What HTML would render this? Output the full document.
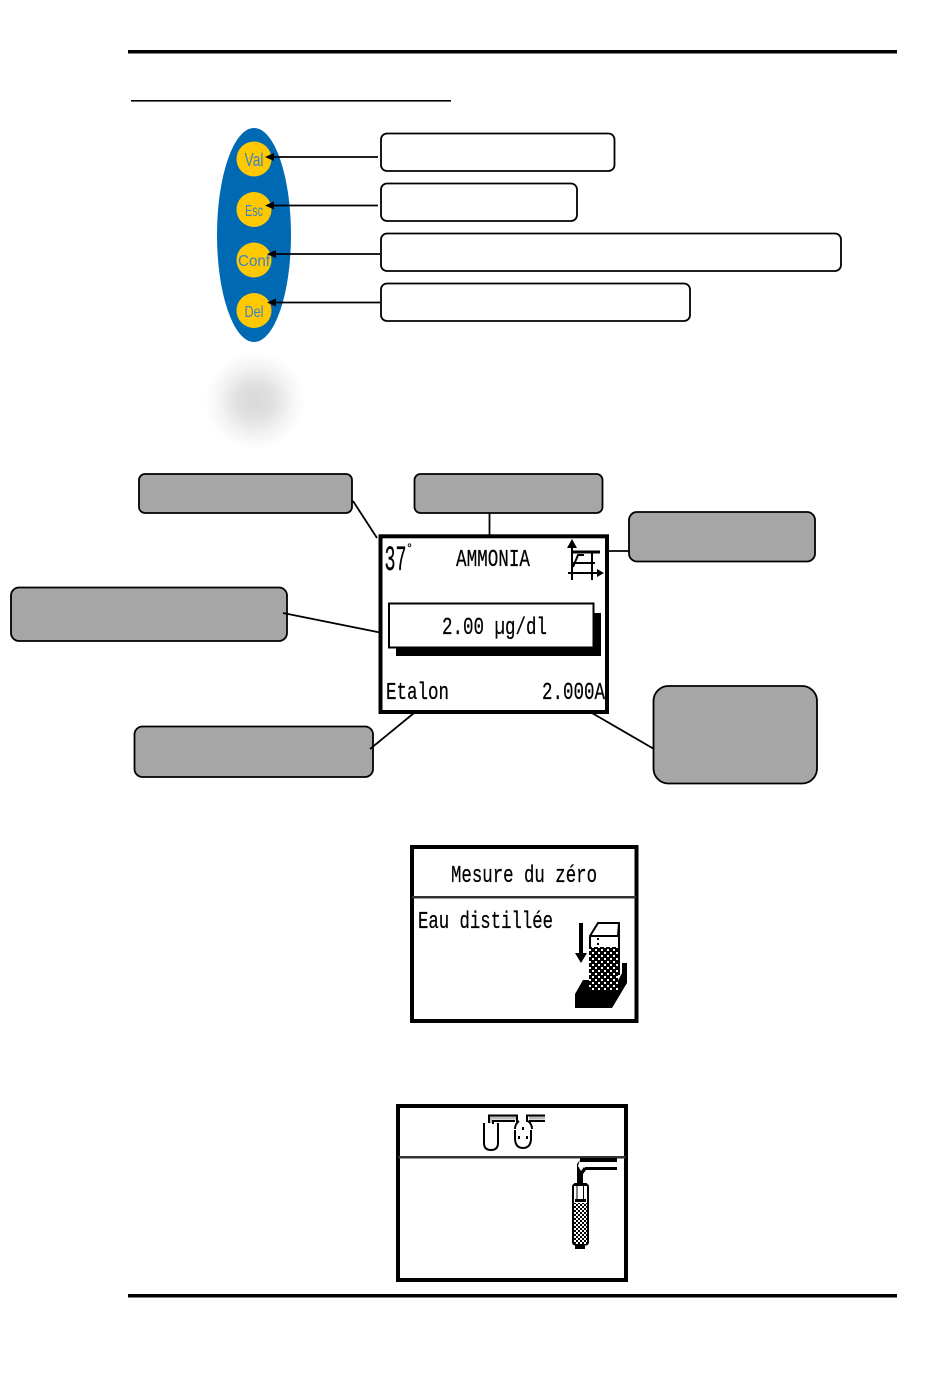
<!DOCTYPE html>
<html><head><meta charset="utf-8"><style>
html,body{margin:0;padding:0;background:#fff}
svg{display:block}
.l{font-family:"Liberation Mono",monospace;fill:#000;stroke:#000;stroke-width:.25}
</style></head><body>
<svg width="950" height="1379" viewBox="0 0 950 1379" xmlns="http://www.w3.org/2000/svg">
<defs>
<radialGradient id="g"><stop offset="0" stop-color="#d9d9d9"/><stop offset=".35" stop-color="#e0e0e0"/><stop offset=".7" stop-color="#f3f3f3"/><stop offset="1" stop-color="#fff"/></radialGradient>
<pattern id="ch" width="4" height="4" patternUnits="userSpaceOnUse"><rect width="4" height="4" fill="#fff"/><rect width="2" height="2" fill="#000"/><rect x="2" y="2" width="2" height="2" fill="#000"/></pattern>
<pattern id="gr" width="6" height="6" patternUnits="userSpaceOnUse"><rect width="6" height="6" fill="#000"/><rect x="1" y="1" width="2" height="2" fill="#fff"/><rect x="4" y="4" width="2" height="2" fill="#fff"/></pattern>
</defs>
<rect x="128" y="50" width="769" height="3.500"/>
<rect x="131" y="100" width="320" height="1.600"/>
<rect x="128" y="1294" width="769" height="3.500"/>

<ellipse cx="254" cy="235" rx="37" ry="107" fill="#0069b4"/>
<g fill="#ffc800"><circle cx="254" cy="159" r="17.500"/><circle cx="254" cy="209.500" r="17.500"/><circle cx="254" cy="260" r="17.500"/><circle cx="254" cy="310.500" r="17.500"/></g>
<g font-family="Liberation Sans,sans-serif" fill="#3a84c2" text-anchor="middle">
<text x="254" y="166" font-size="18" textLength="19" lengthAdjust="spacingAndGlyphs">Val</text>
<text x="254" y="216" font-size="16" textLength="18" lengthAdjust="spacingAndGlyphs">Esc</text>
<text x="254" y="266" font-size="16" textLength="32" lengthAdjust="spacingAndGlyphs">Conf</text>
<text x="254" y="317" font-size="16" textLength="19" lengthAdjust="spacingAndGlyphs">Del</text>
</g>
<g stroke="#000" stroke-width="1.800" fill="#fff">
<rect x="381" y="133.500" width="233.500" height="37.500" rx="6"/>
<rect x="381" y="183.500" width="196" height="37.500" rx="6"/>
<rect x="381" y="233.500" width="460" height="37.500" rx="6"/>
<rect x="381" y="283.500" width="309" height="37.500" rx="6"/>
</g>
<g stroke="#000" stroke-width="1.700">
<line x1="270" y1="157" x2="378" y2="157"/><line x1="270" y1="205.500" x2="378" y2="205.500"/><line x1="272" y1="254" x2="380" y2="254"/><line x1="272" y1="302.500" x2="380" y2="302.500"/>
</g>
<polygon points="265,157 274,153 274,161"/><polygon points="265,205.500 274,201.500 274,209.500"/><polygon points="267,254 276,250 276,258"/><polygon points="267,302.500 276,298.500 276,306.500"/>

<ellipse cx="255" cy="401" rx="50" ry="49" fill="url(#g)"/>

<g stroke="#000" stroke-width="1.800" fill="#a6a6a6">
<rect x="139" y="474" width="213" height="39" rx="6"/>
<rect x="414.500" y="474" width="188" height="39" rx="6"/>
<rect x="629" y="512" width="186" height="49.500" rx="8"/>
<rect x="11" y="587.500" width="276" height="53.500" rx="8"/>
<rect x="134.500" y="726.500" width="238.500" height="50.500" rx="8"/>
<rect x="653.500" y="686" width="163.500" height="97.500" rx="15"/>
</g>
<g stroke="#000" stroke-width="1.800" fill="none">
<line x1="353" y1="501" x2="377" y2="538"/>
<line x1="489.500" y1="513" x2="489.500" y2="536"/>
<line x1="608" y1="551" x2="629" y2="551"/>
<line x1="283" y1="613" x2="380" y2="632.500"/>
<line x1="370" y1="749" x2="414" y2="713"/>
<line x1="592" y1="713" x2="654" y2="749"/>
</g>

<!-- screen 1 -->
<rect x="380.500" y="536.300" width="226.500" height="175.700" fill="#fff" stroke="#000" stroke-width="4"/>
<rect x="396" y="613" width="205" height="43"/>
<rect x="389" y="603.500" width="204.500" height="44" fill="#fff" stroke="#000" stroke-width="2"/>
<text class="l" font-size="35" x="384.500" y="570" textLength="22" lengthAdjust="spacingAndGlyphs">37</text>
<text class="l" font-size="13" x="406" y="552" textLength="7" lengthAdjust="spacingAndGlyphs">°</text>
<text class="l" font-size="24" x="456" y="566" textLength="74" lengthAdjust="spacingAndGlyphs">AMMONIA</text>
<text class="l" font-size="24" x="442" y="634" textLength="105" lengthAdjust="spacingAndGlyphs">2.00 µg/dl</text>
<text class="l" font-size="24" x="386" y="699" textLength="63" lengthAdjust="spacingAndGlyphs">Etalon</text>
<text class="l" font-size="24" x="542" y="699" textLength="63" lengthAdjust="spacingAndGlyphs">2.000A</text>
<g stroke="#000" fill="none" stroke-width="2">
<line x1="572" y1="542" x2="572" y2="580"/><line x1="568" y1="573" x2="602" y2="573"/>
<line x1="572" y1="552" x2="600" y2="552" stroke-width="3"/><line x1="572" y1="563" x2="595" y2="563"/>
<line x1="592" y1="552" x2="592" y2="580"/><polyline points="573,567 578,555 584,555"/>
</g>
<polygon points="572,539 567,548 577,548"/><polygon points="604,573 597,569 597,577"/>

<!-- screen 2 -->
<rect x="412" y="847" width="224.500" height="174" fill="#fff" stroke="#000" stroke-width="4"/>
<rect x="412" y="896" width="224" height="2.500" fill="#333"/>
<text class="l" font-size="24" x="451" y="882" textLength="146" lengthAdjust="spacingAndGlyphs">Mesure du zéro</text>
<text class="l" font-size="24" x="418" y="928" textLength="135" lengthAdjust="spacingAndGlyphs">Eau distillée</text>
<rect x="579" y="923" width="4" height="30"/><polygon points="575,953 587,953 581,963"/>
<polygon points="575,994 583,980 589,980 589,990 613,990 622,973 622,963 627,963 627,983 612,1008 575,1008"/>
<rect x="589" y="947" width="29" height="43" fill="url(#gr)"/>
<g fill="none" stroke="#000" stroke-width="2"><path d="M590 948 V936 L598 923 H619 V975 M590 936 H618 M618 936 L619 923"/></g>
<rect x="597" y="938" width="2" height="2"/><rect x="597" y="943" width="2" height="2"/>

<!-- screen 3 -->
<rect x="398" y="1106" width="228" height="174" fill="#fff" stroke="#000" stroke-width="4"/>
<rect x="398" y="1156" width="228" height="2.500" fill="#333"/>
<path d="M490.500 1123 V1118 H516 M529 1118 H545" fill="none" stroke="#bbb" stroke-width="3"/>
<g fill="none" stroke="#000" stroke-width="2">
<path d="M484 1123 V1143 Q484 1150 491 1150 Q498 1150 498 1143 V1123"/>
<path d="M489 1123 V1115.500 H517 V1122 M493 1124 V1121 H515 M527 1122 V1115.500 H545 M530 1123 V1121 H545"/>
<path d="M515 1129 Q515 1124 519 1121 M528 1121 Q532 1124 532 1129 M531 1130 V1140 M515 1130 V1140 M515 1140 Q516 1148 523 1148 Q530 1148 531 1140"/>
</g>
<rect x="522" y="1127" width="2" height="3"/><rect x="518" y="1136" width="2" height="3"/><rect x="526" y="1136" width="2" height="3"/>
<rect x="580" y="1158" width="37" height="4"/><rect x="585" y="1167" width="32" height="3"/>
<polygon points="580,1160 577,1164 577,1184 583,1184 583,1174 586,1170 584,1167 581,1171 578,1166"/>
<rect x="573" y="1184.500" width="15" height="60" rx="2" fill="#fff" stroke="#000" stroke-width="2"/>
<rect x="574" y="1183" width="13" height="3"/>
<rect x="574" y="1203" width="13" height="41" fill="url(#ch)"/>
<rect x="575" y="1199" width="11" height="3"/><rect x="575" y="1245" width="10" height="4"/>
<line x1="577" y1="1185" x2="577" y2="1200" stroke="#000"/><line x1="583.500" y1="1185" x2="583.500" y2="1200" stroke="#000"/>
</svg>
</body></html>
